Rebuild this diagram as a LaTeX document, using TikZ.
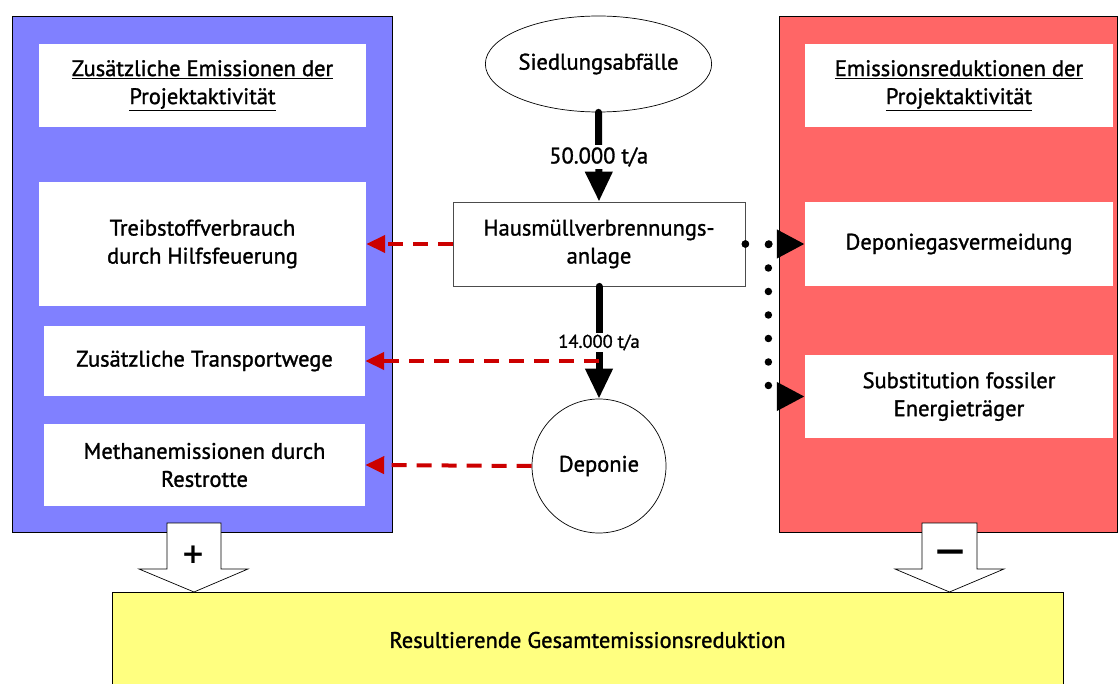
\documentclass[tikz,border=0pt]{standalone}
\usepackage{fontspec}
\setmainfont{PT Sans}[FakeBold=1.3]
\newfontfamily\signfont{DejaVu Sans}
\usetikzlibrary{arrows.meta,shapes.geometric,calc}
\definecolor{panelblue}{RGB}{128,128,255}
\definecolor{panelred}{RGB}{255,102,102}
\definecolor{resyellow}{RGB}{255,255,128}
\definecolor{dashred}{RGB}{204,0,0}
\newcommand\txtsize{\fontsize{22.5}{28}\selectfont}
\newcommand\smallsize{\fontsize{18.5}{22}\selectfont}
\begin{document}
\begin{tikzpicture}[x=1pt,y=-1pt,
  panel/.style={draw=black, line width=0.8pt, inner sep=0pt},
  textbox/.style={fill=white, inner sep=0pt, align=center, font=\txtsize},
  flow/.style={line width=7pt, line cap=round, -{Triangle[length=30pt,width=26pt]}},
  reddash/.style={draw=dashred, line width=4pt, dash pattern=on 15pt off 10pt,
    -{Triangle[length=19pt,width=17pt]}},
  dotline/.style={line width=7.5pt, line cap=round, dash pattern=on 0pt off 23.5pt,
    -{Triangle[length=28pt,width=27pt]}},
  blockarrow/.style={draw=black, fill=white, line width=0.7pt},
  sign/.style={font=\signfont\bfseries\fontsize{28}{28}\selectfont, inner sep=0pt}]
\useasboundingbox (0,0) rectangle (1119,684);

% side panels
\node[panel, fill=panelblue, minimum width=380pt, minimum height=516pt] (bluep) at (202,274) {};
\node[panel, fill=panelred, minimum width=338pt, minimum height=516pt] (redp) at (948,274) {};

% additional emissions
\node[textbox, minimum width=327pt, minimum height=83pt] (btitle) at (202.5,85.5)
  {\underline{Zusätzliche Emissionen der}\\\underline{Projektaktivität}};
\node[textbox, minimum width=327pt, minimum height=124pt] (treib) at (202.5,244)
  {Treibstoffverbrauch\\durch Hilfsfeuerung};
\node[textbox, minimum width=321pt, minimum height=70pt] (trans) at (204.5,361)
  {Zusätzliche Transportwege};
\node[textbox, minimum width=321pt, minimum height=82pt] (meth) at (204.5,465)
  {Methanemissionen durch\\Restrotte};

% emission reductions
\node[textbox, minimum width=308pt, minimum height=83pt] (rtitle) at (959,85.5)
  {\underline{Emissionsreduktionen der}\\\underline{Projektaktivität}};
\node[textbox, minimum width=308pt, minimum height=84pt] (dgas) at (959,244)
  {Deponiegasvermeidung};
\node[textbox, minimum width=308pt, minimum height=83pt] (subst) at (959,396.5)
  {Substitution fossiler\\Energieträger};

% material flow
\node[draw=black, line width=0.7pt, ellipse, minimum width=191pt, minimum height=96pt,
  inner sep=0pt, font=\txtsize] (sied) at (598.5,64) {Siedlungsabfälle};
\node[draw=black!70, line width=0.8pt, fill=white, minimum width=292pt, minimum height=84pt,
  inner sep=0pt, align=center, font=\txtsize] (haus) at (599,244)
  {Hausmüllverbrennungs-\\anlage};
\node[draw=black, line width=0.7pt, circle, minimum size=134pt, inner sep=0pt,
  font=\txtsize] (dep) at (599,466) {Deponie};

\draw[flow] (sied.south) -- (haus.north)
  node[midway, fill=white, inner sep=2pt, font=\txtsize] (m1) {50.000 t/a};
\draw[flow] (haus.south) -- (dep.north)
  node[midway, fill=white, inner sep=2pt, font=\smallsize] (m2) {14.000 t/a};

% additional emissions links
\coordinate (tap) at (haus.south |- trans.east);
\draw[reddash] (haus.west) -- (treib.east);
\draw[reddash] (tap) -- (trans.east);
\draw[reddash] (dep.west) -- (meth.east);

% reduction links
\draw[dotline] (haus.east) -- (dgas.west);
\draw[dotline] (haus.east) -- ++(23,0) |- (subst.west);

% summation arrows and result
\node[draw=black, line width=0.7pt, fill=resyellow, minimum width=951pt, minimum height=96pt,
  inner sep=0pt, font=\txtsize] (res) at (587.5,640) {Resultierende Gesamtemissionsreduktion};
\draw[blockarrow] (167,523) -- (221,523) -- (221,569) -- (248,569) -- (194,592)
  -- (139,569) -- (167,569) -- cycle;
\draw[blockarrow] (922,523) -- (977,523) -- (977,569) -- (1004,569) -- (949.5,592)
  -- (895,569) -- (922,569) -- cycle;
\node[sign] (plus) at (193,555) {+};
\node[sign] (minus) at (950.5,557) {\scalebox{1.45}[1.3]{−}};
\end{tikzpicture}
\end{document}
